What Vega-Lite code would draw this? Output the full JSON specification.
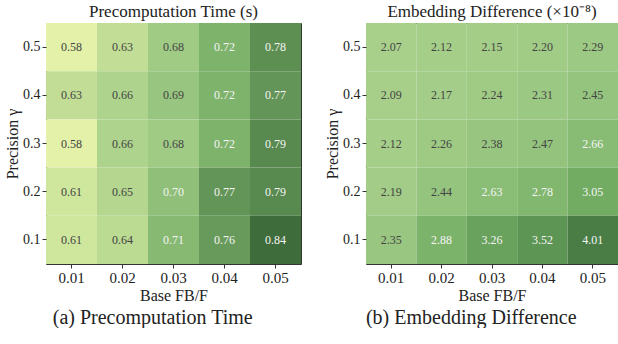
{
  "$schema": "https://vega.github.io/schema/vega-lite/v6.json",
  "padding": {"left": 4, "top": 2, "right": 0, "bottom": 0},
  "spacing": 22,
  "resolve": {"scale": {"color": "independent"}},
  "config": {
    "font": "Liberation Serif",
    "view": {"stroke": "#333", "strokeWidth": 1},
    "axis": {"labelFont": "Liberation Serif", "titleFont": "Liberation Serif", "labelFontSize": 15, "titleFontSize": 15, "titleFontWeight": "normal", "labelColor": "#222", "titleColor": "#222", "tickColor": "#333", "tickSize": 4, "labelPadding": 2, "domain": false, "grid": false, "labelAngle": 0},
    "title": {"font": "Liberation Serif", "fontWeight": "normal", "color": "#222"}
  },
  "datasets": {
    "time": [
      {"b": "0.01", "p": "0.5", "v": 0.58}, {"b": "0.02", "p": "0.5", "v": 0.63}, {"b": "0.03", "p": "0.5", "v": 0.68}, {"b": "0.04", "p": "0.5", "v": 0.72}, {"b": "0.05", "p": "0.5", "v": 0.78},
      {"b": "0.01", "p": "0.4", "v": 0.63}, {"b": "0.02", "p": "0.4", "v": 0.66}, {"b": "0.03", "p": "0.4", "v": 0.69}, {"b": "0.04", "p": "0.4", "v": 0.72}, {"b": "0.05", "p": "0.4", "v": 0.77},
      {"b": "0.01", "p": "0.3", "v": 0.58}, {"b": "0.02", "p": "0.3", "v": 0.66}, {"b": "0.03", "p": "0.3", "v": 0.68}, {"b": "0.04", "p": "0.3", "v": 0.72}, {"b": "0.05", "p": "0.3", "v": 0.79},
      {"b": "0.01", "p": "0.2", "v": 0.61}, {"b": "0.02", "p": "0.2", "v": 0.65}, {"b": "0.03", "p": "0.2", "v": 0.70}, {"b": "0.04", "p": "0.2", "v": 0.77}, {"b": "0.05", "p": "0.2", "v": 0.79},
      {"b": "0.01", "p": "0.1", "v": 0.61}, {"b": "0.02", "p": "0.1", "v": 0.64}, {"b": "0.03", "p": "0.1", "v": 0.71}, {"b": "0.04", "p": "0.1", "v": 0.76}, {"b": "0.05", "p": "0.1", "v": 0.84}
    ],
    "diff": [
      {"b": "0.01", "p": "0.5", "v": 2.07}, {"b": "0.02", "p": "0.5", "v": 2.12}, {"b": "0.03", "p": "0.5", "v": 2.15}, {"b": "0.04", "p": "0.5", "v": 2.20}, {"b": "0.05", "p": "0.5", "v": 2.29},
      {"b": "0.01", "p": "0.4", "v": 2.09}, {"b": "0.02", "p": "0.4", "v": 2.17}, {"b": "0.03", "p": "0.4", "v": 2.24}, {"b": "0.04", "p": "0.4", "v": 2.31}, {"b": "0.05", "p": "0.4", "v": 2.45},
      {"b": "0.01", "p": "0.3", "v": 2.12}, {"b": "0.02", "p": "0.3", "v": 2.26}, {"b": "0.03", "p": "0.3", "v": 2.38}, {"b": "0.04", "p": "0.3", "v": 2.47}, {"b": "0.05", "p": "0.3", "v": 2.66},
      {"b": "0.01", "p": "0.2", "v": 2.19}, {"b": "0.02", "p": "0.2", "v": 2.44}, {"b": "0.03", "p": "0.2", "v": 2.63}, {"b": "0.04", "p": "0.2", "v": 2.78}, {"b": "0.05", "p": "0.2", "v": 3.05},
      {"b": "0.01", "p": "0.1", "v": 2.35}, {"b": "0.02", "p": "0.1", "v": 2.88}, {"b": "0.03", "p": "0.1", "v": 3.26}, {"b": "0.04", "p": "0.1", "v": 3.52}, {"b": "0.05", "p": "0.1", "v": 4.01}
    ]
  },
  "hconcat": [
    {
      "title": {"text": "(a) Precomputation Time", "orient": "bottom", "fontSize": 20, "offset": 4, "anchor": "middle"},
      "resolve": {"scale": {"color": "independent"}},
      "hconcat": [
        {
          "width": 255,
          "height": 241,
          "data": {"name": "time"},
          "title": {"text": "Precomputation Time (s)", "fontSize": 17, "offset": 2},
          "encoding": {
            "x": {"field": "b", "type": "ordinal", "title": "Base FB/F", "axis": {"titlePadding": 2, "titleFontSize": 16}},
            "y": {"field": "p", "type": "ordinal", "sort": "descending", "title": "Precision γ", "axis": {"titlePadding": 2, "titleFontSize": 16, "labelFontSize": 14}}
          },
          "resolve": {"scale": {"color": "independent"}},
          "layer": [
            {"mark": {"type": "rect"}, "encoding": {"color": {"field": "v", "type": "quantitative", "legend": null, "scale": {"domain": [0.58, 0.68, 0.72, 0.84], "range": ["#e3f1a9", "#a0cb85", "#7eb36c", "#3e6c3a"]}}}},
            {"mark": {"type": "text", "fontSize": 12, "font": "Liberation Serif"}, "encoding": {"text": {"field": "v", "type": "quantitative", "format": ".2f"}, "color": {"condition": {"test": "datum.v >= 0.695", "value": "#f4f4f4"}, "value": "#444"}}}
          ]
        }
      ]
    },
    {
      "title": {"text": "(b) Embedding Difference", "orient": "bottom", "fontSize": 20, "offset": 4, "anchor": "middle"},
      "resolve": {"scale": {"color": "independent"}},
      "hconcat": [
        {
          "width": 252,
          "height": 241,
          "data": {"name": "diff"},
          "title": {"text": "Embedding Difference (×10⁻⁸)", "fontSize": 17, "offset": 2},
          "encoding": {
            "x": {"field": "b", "type": "ordinal", "title": "Base FB/F", "axis": {"titlePadding": 2, "titleFontSize": 16}},
            "y": {"field": "p", "type": "ordinal", "sort": "descending", "title": "Precision γ", "axis": {"titlePadding": 2, "titleFontSize": 16, "labelFontSize": 14}}
          },
          "resolve": {"scale": {"color": "independent"}},
          "layer": [
            {"mark": {"type": "rect"}, "encoding": {"color": {"field": "v", "type": "quantitative", "legend": null, "scale": {"domain": [2.07, 2.45, 3.05, 4.01], "range": ["#a8d08b", "#94c47e", "#72ac62", "#497d45"]}}}},
            {"mark": {"type": "text", "fontSize": 12, "font": "Liberation Serif"}, "encoding": {"text": {"field": "v", "type": "quantitative", "format": ".2f"}, "color": {"condition": {"test": "datum.v >= 2.6", "value": "#f4f4f4"}, "value": "#444"}}}
          ]
        }
      ]
    }
  ]
}
